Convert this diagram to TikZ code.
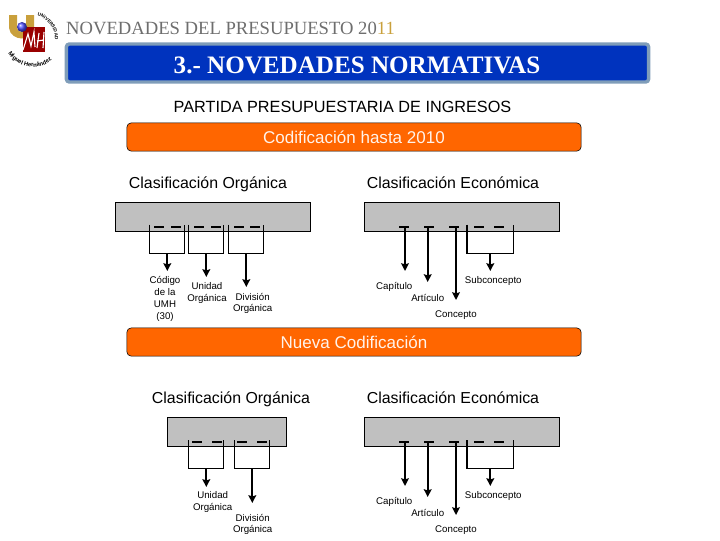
\documentclass[tikz,border=0pt]{standalone}
\usepackage{fontspec}
\setmainfont{Liberation Sans}
\newfontfamily\headfont{Liberation Serif}
\usetikzlibrary{arrows.meta,decorations.text}
\definecolor{Naranja}{HTML}{FF6600}
\definecolor{Azul}{HTML}{0033BE}
\definecolor{Borde}{HTML}{7F9DB9}
\definecolor{Gris}{HTML}{C0C0C0}
\definecolor{Titulo}{HTML}{6E6E6E}
\definecolor{Oro}{HTML}{C9A03C}

\begin{document}
\begin{tikzpicture}[x=0.025cm,y=-0.025cm,
  barra/.style={draw=black,rounded corners=3pt,fill=Naranja,minimum width=323pt,minimum height=20pt,
    text=white!92!Naranja,font=\fontsize{12.1}{14}\selectfont},
  clase/.style={font=\fontsize{11.3}{13}\selectfont,text height=8.2pt,text depth=2.4pt},
  caja/.style={draw=black,fill=Gris,line width=0.7pt,minimum height=20.6pt},
  rasgo/.style={fill=black,inner sep=0pt,minimum width=7.2pt,minimum height=1.6pt},
  llave/.style={inner sep=0pt,minimum height=20pt},
  etq/.style={align=center,font=\fontsize{6.9}{8.4}\selectfont},
  arr/.style={-{Stealth[length=5.5pt,width=5.5pt,inset=0.8pt]},line width=1.4pt},
  lin/.style={line width=0.8pt}]
  \useasboundingbox (0,0) rectangle (720,540);
  % logo
  \fill[Oro] (9,15) -- (17,15) -- (17,28) .. controls (18,33) and (24,33) .. (26,28) -- (26,15) -- (34,15) -- (34,28)
    .. controls (33,42) and (11,42) .. (9,28) -- cycle;
  \fill[red!60!black] (23,27) rectangle (45,52);
  \draw[white,line width=0.8pt] (23,50) -- (28,34) -- (31,46) -- (34,32) -- (35,47) (39,33) -- (37,48) (44,32) -- (43,48) (37,41) -- (44,40);
  \shade[ball color=blue!70!white] (22,27) circle (5);
  \path[postaction={decorate},decoration={text along path,text align=center,
    text={|\fontsize{3.3}{4}\selectfont\bfseries|UNIVERSIDAD}}] (31,39) ++(-85:24) arc (-85:12:24);
  \path[postaction={decorate},decoration={text along path,text align=center,
    text={|\fontsize{4.2}{5}\selectfont\bfseries|Miguel Hernández}}] (33,38) ++(176:29) arc (176:22:29);
  % cabecera
  \node[text=Titulo,font=\headfont\fontsize{13.25}{15}\selectfont] (tit) at (230.5,28) {NOVEDADES DEL PRESUPUESTO 20\textcolor{Oro}{11}};
  \node[draw=Borde,line width=2.4pt,fill=Azul,rounded corners=2pt,minimum width=414pt,minimum height=27pt] (banda) at (357.5,63) {};
  \node[text=white,font=\headfont\bfseries\fontsize{17.85}{20}\selectfont] (sec) at (357,65) {3.- NOVEDADES NORMATIVAS};
  \node[font=\fontsize{11.55}{13}\selectfont] (part) at (342.5,107) {PARTIDA PRESUPUESTARIA DE INGRESOS};

  % hasta 2010
  \node[barra] (cod) at (354,137) {Codificación hasta 2010};
  \node[clase] (co1) at (208,184) {Clasificación Orgánica};
  \node[clase] (ce1) at (453,184) {Clasificación Económica};
  \node[caja,minimum width=138pt] (gr1) at (213,216.7) {};
  \node[caja,minimum width=138pt] (gr2) at (462,216.7) {};

  \node[rasgo] at (159,226.7) (d1) {};
  \node[rasgo] at (176,226.7) (d2) {};
  \node[rasgo] at (199,226.7) (d3) {};
  \node[rasgo] at (216,226.7) (d4) {};
  \node[rasgo] at (239,226.7) (d5) {};
  \node[rasgo] at (255,226.7) (d6) {};
  \node[llave,minimum width=24.4pt] (ll1) at (167.3,239) {};
  \node[llave,minimum width=24.4pt] (ll2) at (206.3,239) {};
  \node[llave,minimum width=24.4pt] (ll3) at (246.3,239) {};
  \draw[lin] (ll1.north west) |- (ll1.south east) -- (ll1.north east);
  \draw[lin] (ll2.north west) |- (ll2.south east) -- (ll2.north east);
  \draw[lin] (ll3.north west) |- (ll3.south east) -- (ll3.north east);
  \coordinate (p1) at (167.3,271);
  \coordinate (p2) at (206.3,277);
  \coordinate (p3) at (246.3,287);
  \draw[arr] (ll1.south) -- (p1);
  \draw[arr] (ll2.south) -- (p2);
  \draw[arr] (ll3.south) -- (p3);
  \node[etq] (e1) at (165,299) {Código\\de la\\UMH\\(30)};
  \node[etq] (e2) at (207,293) {Unidad\\Orgánica};
  \node[etq] (e3) at (252.7,303.5) {División\\Orgánica};

  \node[rasgo] at (404,226.7) (f1) {};
  \node[rasgo] at (429,226.7) (f2) {};
  \node[rasgo] at (454,226.7) (f3) {};
  \node[rasgo] at (479,226.7) (f4) {};
  \node[rasgo] at (499,226.7) (f5) {};
  \node[llave,minimum width=32.7pt] (ll4) at (490.3,239) {};
  \draw[lin] (ll4.north west) |- (ll4.south east) -- (ll4.north east);
  \coordinate (q1) at (405,271);
  \coordinate (q2) at (427.7,282);
  \coordinate (q3) at (456,300);
  \coordinate (q4) at (490.3,271);
  \draw[arr] (q1 |- f1.south) -- (q1);
  \draw[arr] (q2 |- f2.south) -- (q2);
  \draw[arr] (q3 |- f3.south) -- (q3);
  \draw[arr] (ll4.south) -- (q4);
  \node[etq] (g1) at (394.3,286.7) {Capítulo};
  \node[etq] (g2) at (427.7,297.7) {Artículo};
  \node[etq] (g3) at (456,314.7) {Concepto};
  \node[etq] (g4) at (493.3,280.7) {Subconcepto};

  % nueva
  \node[barra] (nue) at (354,342) {Nueva Codificación};
  \node[clase] (co2) at (231,399) {Clasificación Orgánica};
  \node[clase] (ce2) at (453,399) {Clasificación Económica};
  \node[caja,minimum width=85pt] (gr3) at (227,432.3) {};
  \node[caja,minimum width=138pt] (gr4) at (462,432.3) {};

  \node[rasgo] at (196.7,441.7) (h1) {};
  \node[rasgo] at (217,441.7) (h2) {};
  \node[rasgo] at (242,441.7) (h3) {};
  \node[rasgo] at (262,441.7) (h4) {};
  \node[llave,minimum width=24.4pt] (ll5) at (206.3,454.5) {};
  \node[llave,minimum width=24.4pt] (ll6) at (252.3,454.5) {};
  \draw[lin] (ll5.north west) |- (ll5.south east) -- (ll5.north east);
  \draw[lin] (ll6.north west) |- (ll6.south east) -- (ll6.north east);
  \coordinate (r1) at (206.3,487);
  \coordinate (r2) at (252.3,503);
  \draw[arr] (ll5.south) -- (r1);
  \draw[arr] (ll6.south) -- (r2);
  \node[etq] (i1) at (212.7,501.7) {Unidad\\Orgánica};
  \node[etq] (i2) at (252.7,524.5) {División\\Orgánica};

  \node[rasgo] at (404,441.7) (j1) {};
  \node[rasgo] at (429,441.7) (j2) {};
  \node[rasgo] at (454,441.7) (j3) {};
  \node[rasgo] at (479,441.7) (j4) {};
  \node[rasgo] at (499,441.7) (j5) {};
  \node[llave,minimum width=32.7pt] (ll7) at (490.3,454.5) {};
  \draw[lin] (ll7.north west) |- (ll7.south east) -- (ll7.north east);
  \coordinate (s1) at (405,486);
  \coordinate (s2) at (427.7,497);
  \coordinate (s3) at (456,515);
  \coordinate (s4) at (490.3,486);
  \draw[arr] (s1 |- j1.south) -- (s1);
  \draw[arr] (s2 |- j2.south) -- (s2);
  \draw[arr] (s3 |- j3.south) -- (s3);
  \draw[arr] (ll7.south) -- (s4);
  \node[etq] (k1) at (394.3,501.7) {Capítulo};
  \node[etq] (k2) at (427.7,512.7) {Artículo};
  \node[etq] (k3) at (456,529.7) {Concepto};
  \node[etq] (k4) at (493.3,495.7) {Subconcepto};
\end{tikzpicture}
\end{document}
